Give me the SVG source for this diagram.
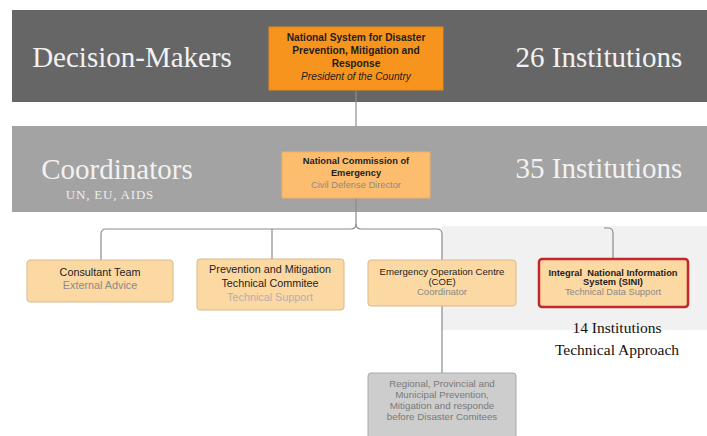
<svg xmlns="http://www.w3.org/2000/svg" width="707" height="436" viewBox="0 0 707 436">
<defs>
<style>
.band{stroke:none}
.big{font-family:"Liberation Serif","Times New Roman",serif;font-size:29px;fill:#f2f2f2;text-anchor:middle}
.sub{font-family:"Liberation Serif","Times New Roman",serif;font-size:13px;fill:#eeeeee;text-anchor:middle;letter-spacing:0.8px}
.dark{font-family:"Liberation Serif","Times New Roman",serif;font-size:15.5px;fill:#111;text-anchor:middle}
.t{font-family:"Liberation Sans",Arial,sans-serif;text-anchor:middle;fill:#1e1e1e}
.b{font-weight:bold}
.g{fill:#8a8a8a}
.lg{fill:#b0b0b0}
.box{fill:#fcd8a3;stroke:#d9b98d;stroke-width:1}
.conn{fill:none;stroke:#8c8c8c;stroke-width:1.2}
</style>
</defs>
<rect width="707" height="436" fill="#ffffff"/>
<rect x="442" y="226" width="265" height="104" fill="#f1f1f1"/>
<rect class="band" x="12" y="10" width="695" height="92" fill="#666666"/>
<rect class="band" x="12" y="126" width="695" height="86" fill="#a3a3a3"/>
<text class="big" x="132" y="67">Decision-Makers</text>
<text class="big" x="599" y="67">26 Institutions</text>
<text class="big" x="117" y="179">Coordinators</text>
<text class="sub" x="110" y="199">UN, EU, AIDS</text>
<text class="big" x="599" y="178">35 Institutions</text>
<text class="dark" x="617" y="333">14 Institutions</text>
<text class="dark" x="617" y="355">Technical Approach</text>
<g id="connectors">
<path class="conn" d="M356,91 V126"/>
<path class="conn" d="M356,198 V224 Q356,229 351,229 H106 Q101,229 101,234 V260"/>
<path class="conn" d="M272,229 V260"/>
<path class="conn" d="M356,224 Q356,229 361,229 H437 Q442,229 442,234 V373"/>
<path class="conn" d="M604,228 H608 Q613,228 613,233 V259"/>
</g>
<g id="n-system">
<rect x="269" y="27" width="174" height="63" fill="#f7941d" stroke="#e88a1a"/>
<text class="t b" x="356" y="41" font-size="10.2">National System for Disaster</text>
<text class="t b" x="356" y="54" font-size="10.2">Prevention, Mitigation and</text>
<text class="t b" x="356" y="67" font-size="10.2">Response</text>
<text class="t" x="356" y="80" font-size="10.2" font-style="italic">President of the Country</text>
</g>
<g id="n-commission">
<rect x="282" y="152" width="148" height="46" fill="#fcbd6f" stroke="#f0b060"/>
<text class="t b" x="356" y="164" font-size="9.3">National Commission of</text>
<text class="t b" x="356" y="176" font-size="9.3">Emergency</text>
<text class="t g" x="356" y="188" font-size="9.3">Civil Defense Director</text>
</g>
<g id="n-consultant">
<rect class="box" x="27" y="260" width="146" height="42" rx="3"/>
<text class="t" x="100" y="276" font-size="10.8">Consultant Team</text>
<text class="t g" x="100" y="289" font-size="10.8">External Advice</text>
</g>
<g id="n-prevention">
<rect class="box" x="197" y="259" width="147" height="51" rx="3"/>
<text class="t" x="270" y="273" font-size="10.8">Prevention and Mitigation</text>
<text class="t" x="270" y="287" font-size="10.8">Technical Commitee</text>
<text class="t lg" x="270" y="301" font-size="10.8">Technical Support</text>
</g>
<g id="n-coe">
<rect class="box" x="368" y="260" width="148" height="46" rx="3"/>
<text class="t" x="442" y="275" font-size="9.6">Emergency Operation Centre</text>
<text class="t" x="442" y="285" font-size="9.6">(COE)</text>
<text class="t g" x="442" y="295" font-size="9.6">Coordinator</text>
</g>
<g id="n-sini">
<rect x="539" y="259" width="149" height="48" rx="3" fill="#fcd8a3" stroke="#c1272d" stroke-width="2.5"/>
<text class="t b" x="613" y="276" font-size="9.3" xml:space="preserve">Integral  National Information</text>
<text class="t b" x="613" y="285" font-size="9.3">System (SINI)</text>
<text class="t g" x="613" y="295" font-size="9.3">Technical Data Support</text>
</g>
<g id="n-regional">
<rect x="368" y="373" width="148" height="70" rx="3" fill="#cdcdcd" stroke="#a9a9a9"/>
<text class="t" x="442" y="387" font-size="9.8" style="fill:#7a7a7a">Regional, Provincial and</text>
<text class="t" x="442" y="398" font-size="9.8" style="fill:#7a7a7a">Municipal Prevention,</text>
<text class="t" x="442" y="409" font-size="9.8" style="fill:#7a7a7a">Mitigation and responde</text>
<text class="t" x="442" y="420" font-size="9.8" style="fill:#7a7a7a">before Disaster Comitees</text>
</g>
</svg>
